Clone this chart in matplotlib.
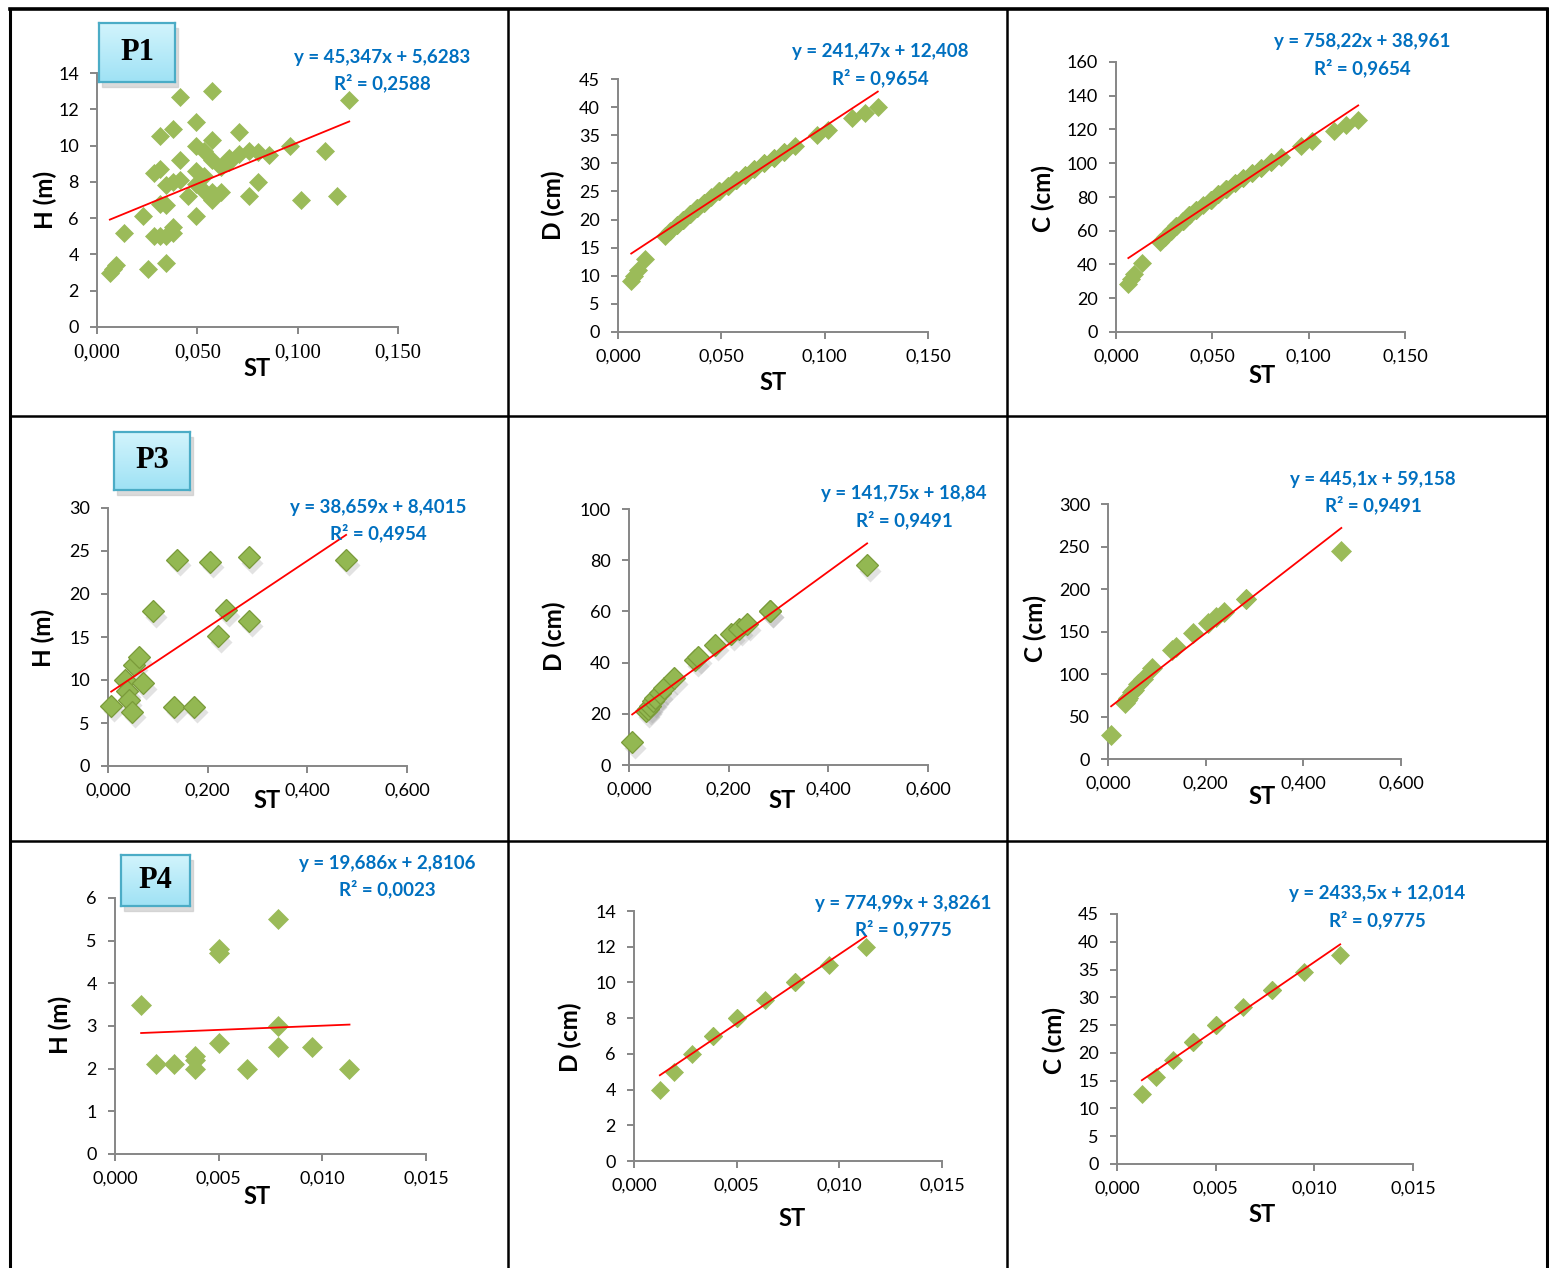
import matplotlib
matplotlib.use('Agg')
import matplotlib.pyplot as plt
from matplotlib.lines import Line2D
from matplotlib.patches import Rectangle
from matplotlib.ticker import FuncFormatter
from matplotlib.transforms import offset_copy
import numpy as np

W, H = 1549, 1268

# ---- P1 ----
p1_st = [0.0064, 0.0079, 0.0095, 0.0133, 0.0227, 0.0254, 0.0284, 0.0284, 0.0314, 0.0314,
         0.0314, 0.0314, 0.0346, 0.0346, 0.0346, 0.0346, 0.0380, 0.0380, 0.0380, 0.0380,
         0.0415, 0.0415, 0.0415, 0.0452, 0.0491, 0.0491, 0.0491, 0.0491, 0.0491, 0.0531,
         0.0531, 0.0531, 0.0573, 0.0573, 0.0573, 0.0573, 0.0573, 0.0616, 0.0616, 0.0660,
         0.0660, 0.0707, 0.0707, 0.0755, 0.0755, 0.0804, 0.0804, 0.0855, 0.0962, 0.1018,
         0.1134, 0.1195, 0.1257]
p1_h = [3.0, 3.2, 3.4, 5.2, 6.1, 3.2, 8.5, 5.0, 8.7, 10.5,
        6.8, 5.0, 6.7, 5.0, 3.5, 7.8, 10.9, 8.0, 5.2, 5.5,
        12.7, 9.2, 8.1, 7.2, 11.3, 10.0, 8.6, 6.1, 7.9, 9.7,
        8.3, 7.5, 13.0, 10.3, 9.2, 7.0, 7.45, 8.8, 7.45, 9.1,
        9.3, 9.55, 10.75, 9.7, 7.2, 9.65, 8.0, 9.5, 10.0, 7.0,
        9.7, 7.2, 12.5]
p1_d = [9, 10, 11, 13, 17, 18, 19, 19, 20, 20,
        20, 20, 21, 21, 21, 21, 22, 22, 22, 22,
        23, 23, 23, 24, 25, 25, 25, 25, 25, 26,
        26, 26, 27, 27, 27, 27, 27, 28, 28, 29,
        29, 30, 30, 31, 31, 32, 32, 33, 35, 36,
        38, 39, 40]
p1_c = [28.3, 31.4, 34.6, 40.8, 53.4, 56.5, 59.7, 59.7, 62.8, 62.8,
        62.8, 62.8, 66.0, 66.0, 66.0, 66.0, 69.1, 69.1, 69.1, 69.1,
        72.3, 72.3, 72.3, 75.4, 78.5, 78.5, 78.5, 78.5, 78.5, 81.7,
        81.7, 81.7, 84.8, 84.8, 84.8, 84.8, 84.8, 88.0, 88.0, 91.1,
        91.1, 94.2, 94.2, 97.4, 97.4, 100.5, 100.5, 103.7, 110.0, 113.1,
        119.4, 122.5, 125.7]

# ---- P3 ----
p3_st = [0.0064, 0.0346, 0.0380, 0.0415, 0.0491, 0.0531, 0.0616, 0.0707, 0.0908, 0.1320,
         0.1385, 0.1735, 0.2043, 0.2206, 0.2376, 0.2827, 0.2827, 0.4778]
p3_h = [7.0, 10.0, 8.7, 7.7, 6.3, 11.8, 12.7, 9.6, 18.0, 6.9,
        24.0, 6.9, 23.75, 15.1, 18.1, 24.3, 16.9, 24.0]
p3_d = [9, 21, 22, 23, 25, 26, 28, 30, 34, 41, 42, 47, 51, 53, 55, 60, 60, 78]
p3_c = [28.3, 66.0, 69.1, 72.3, 78.5, 81.7, 88.0, 94.2, 106.8, 128.8,
        131.9, 147.7, 160.2, 166.5, 172.8, 188.5, 188.5, 245.0]

# ---- P4 ----
p4_st = [0.00126, 0.00196, 0.00283, 0.00385, 0.00385, 0.00385, 0.00503, 0.00503, 0.00503,
         0.00636, 0.00785, 0.00785, 0.00785, 0.00950, 0.01131]
p4_h = [3.5, 2.1, 2.1, 2.3, 2.2, 2.0, 4.8, 4.7, 2.6, 2.0, 5.5, 3.0, 2.5, 2.5, 2.0]
p4_d = [4, 5, 6, 7, 7, 7, 8, 8, 8, 9, 10, 10, 10, 11, 12]
p4_c = [12.6, 15.7, 18.8, 22.0, 22.0, 22.0, 25.1, 25.1, 25.1, 28.3, 31.4, 31.4, 31.4, 34.6, 37.7]

# trendline coefficients as printed on the charts
slopes = [45.347, 241.47, 758.22, 38.659, 141.75, 445.1, 19.686, 774.99, 2433.5]
intercepts = [5.6283, 12.408, 38.961, 8.4015, 18.84, 59.158, 2.8106, 3.8261, 12.014]
eq_lines = ['y = 45,347x + 5,6283', 'y = 241,47x + 12,408', 'y = 758,22x + 38,961',
            'y = 38,659x + 8,4015', 'y = 141,75x + 18,84', 'y = 445,1x + 59,158',
            'y = 19,686x + 2,8106', 'y = 774,99x + 3,8261', 'y = 2433,5x + 12,014']
r2_lines = ['R² = 0,2588', 'R² = 0,9654', 'R² = 0,9654',
            'R² = 0,4954', 'R² = 0,9491', 'R² = 0,9491',
            'R² = 0,0023', 'R² = 0,9775', 'R² = 0,9775']
y_labels = ['H (m)', 'D (cm)', 'C (cm)'] * 3
plot_names = ['P1', 'P3', 'P4']

GREEN = '#9bbb59'
BLUE = '#0070c0'
GREY = '#868686'
SANS = ['Lato', 'DejaVu Sans']

fig = plt.figure(figsize=(W / 100, H / 100), dpi=100)
fig.patch.set_facecolor('white')


def px_axes(x0, x1, yb, yt):
    return fig.add_axes([x0 / W, 1 - yb / H, (x1 - x0) / W, (yb - yt) / H])


def fig_text(x, y, s, **kw):
    fig.text(x / W, 1 - y / H, s, ha='center', va='center', **kw)


# layout per panel: axes box in pixels, axis ranges, text positions
panels = [
    # x0, x1, ybottom, ytop, xmax, xstep, ymax, ystep, marker size, style, eq pos, ylabel pos, ST pos
    (97, 398, 327, 73, 0.15, 0.05, 14, 2, 9.5, 'flat', (382, 57), (45, 200), (257, 369)),
    (618, 928, 332, 79, 0.15, 0.05, 45, 5, 9.0, 'flat', (880, 52), (553, 205), (773, 383)),
    (1116, 1405, 332, 62, 0.15, 0.05, 160, 20, 9.0, 'flat', (1362, 42), (1043, 198), (1262, 376)),
    (108, 407, 766, 508, 0.6, 0.2, 30, 5, 11.5, '3d', (378, 507), (43, 638), (267, 801)),
    (629, 928, 765, 509, 0.6, 0.2, 100, 20, 11.5, '3d', (904, 494), (554, 636), (782, 800)),
    (1108, 1401, 759, 504, 0.6, 0.2, 300, 50, 10.5, 'flat', (1373, 479), (1035, 628), (1262, 796)),
    (115, 426, 1154, 898, 0.015, 0.005, 6, 1, 10.0, 'flat', (387, 863), (60, 1025), (257, 1197)),
    (634, 942, 1161, 911, 0.015, 0.005, 14, 2, 9.5, 'flat', (903, 903), (570, 1037), (792, 1218)),
    (1117, 1413, 1164, 914, 0.015, 0.005, 45, 5, 9.5, 'flat', (1377, 894), (1054, 1040), (1262, 1214)),
]

series = [
    (p1_st, p1_h), (p1_st, p1_d), (p1_st, p1_c),
    (p3_st, p3_h), (p3_st, p3_d), (p3_st, p3_c),
    (p4_st, p4_h), (p4_st, p4_d), (p4_st, p4_c),
]

for i, (spec, (xs, ys)) in enumerate(zip(panels, series)):
    x0, x1, yb, yt, xmax, xstep, ymax, ystep, ms, style, eq_pos, yl_pos, st_pos = spec
    ax = px_axes(x0, x1, yb, yt)
    ax.set_xlim(0, xmax)
    ax.set_ylim(0, ymax)
    ax.set_xticks(np.arange(0, xmax + xstep / 2, xstep))
    ax.set_yticks(np.arange(0, ymax + ystep / 2, ystep))
    ax.xaxis.set_major_formatter(FuncFormatter(lambda v, _: f'{v:.3f}'.replace('.', ',')))
    ax.yaxis.set_major_formatter(FuncFormatter(lambda v, _: f'{v:.0f}'))
    for side in ['top', 'right']:
        ax.spines[side].set_visible(False)
    for side in ['left', 'bottom']:
        ax.spines[side].set_color(GREY)
        ax.spines[side].set_linewidth(1.4)
    ax.tick_params(axis='both', direction='out', length=5, width=1.4, color=GREY,
                   labelsize=13, labelcolor='black')
    ax.tick_params(axis='y', pad=8)
    ax.tick_params(axis='x', pad=7)
    for lab in ax.get_yticklabels():
        lab.set_family(SANS)
    for lab in ax.get_xticklabels():
        lab.set_family(['Liberation Serif'] if i == 0 else SANS)
        if i == 0:
            lab.set_fontsize(15)
    ax.set_facecolor('none')

    if style == '3d':
        shadow = offset_copy(ax.transData, fig=fig, x=2, y=-4, units='points')
        ax.plot(xs, ys, 'D', ms=ms, color='#a0a0a0', alpha=0.3, mec='none',
                transform=shadow, clip_on=False, zorder=2)
        ax.plot(xs, ys, 'D', ms=ms, mfc='#93b852', mec='#7a9b3a', mew=0.9,
                clip_on=False, zorder=3)
    else:
        ax.plot(xs, ys, 'D', ms=ms, mfc=GREEN, mec=GREEN, mew=0.5,
                clip_on=False, zorder=3)

    lo, hi = min(xs), max(xs)
    ax.plot([lo, hi], [slopes[i] * lo + intercepts[i], slopes[i] * hi + intercepts[i]],
            color='red', lw=1.3, zorder=4, clip_on=False)

    fig_text(eq_pos[0], eq_pos[1], eq_lines[i], color=BLUE, fontsize=13.5,
             fontweight='bold', family=SANS)
    fig_text(eq_pos[0], eq_pos[1] + 26, r2_lines[i], color=BLUE, fontsize=13.5,
             fontweight='bold', family=SANS)
    fig_text(yl_pos[0], yl_pos[1], y_labels[i], rotation=90, fontsize=17.5,
             fontweight='bold', family=SANS)
    fig_text(st_pos[0], st_pos[1], 'ST', fontsize=17, fontweight='bold', family=SANS)

# P labels in boxes with a light gradient and a soft shadow
boxes = [(99, 175, 82, 23), (114, 190, 490, 432), (121, 190, 906, 855)]
cmap = matplotlib.colors.LinearSegmentedColormap.from_list('box', ['#d2f4fc', '#9fe2f5'])
for name, (bx0, bx1, byb, byt) in zip(plot_names, boxes):
    shadow = Rectangle(((bx0 + 3) / W, 1 - (byb + 5) / H), (bx1 - bx0) / W,
                       (byb - byt) / H, transform=fig.transFigure,
                       color='#c4c4c4', alpha=0.6, zorder=5)
    fig.add_artist(shadow)
    bax = px_axes(bx0, bx1, byb, byt)
    bax.set_zorder(10)
    grad = np.linspace(0, 1, 64).reshape(-1, 1)
    bax.imshow(grad, aspect='auto', cmap=cmap, extent=[0, 1, 0, 1], origin='upper')
    bax.set_xticks([])
    bax.set_yticks([])
    for sp in bax.spines.values():
        sp.set_color('#4bacc6')
        sp.set_linewidth(1.6)
    bax.text(0.5, 0.5, name, ha='center', va='center', fontsize=22, fontweight='bold',
             family=['Liberation Serif'], transform=bax.transAxes)

# table grid
grid_lines = [
    ((10, 1547), (9, 9), 2.6),
    ((10, 10), (9, 1268), 2.2),
    ((1547, 1547), (9, 1268), 2.2),
    ((508, 508), (9, 1268), 1.8),
    ((1007, 1007), (9, 1268), 1.8),
    ((10, 1547), (416, 416), 1.8),
    ((10, 1547), (841, 841), 1.8),
]
for (gx, gy, lw) in grid_lines:
    fig.add_artist(Line2D([v / W for v in gx], [1 - v / H for v in gy], color='black', lw=lw))

fig.savefig('out.png', dpi=100)
plt.close(fig)
